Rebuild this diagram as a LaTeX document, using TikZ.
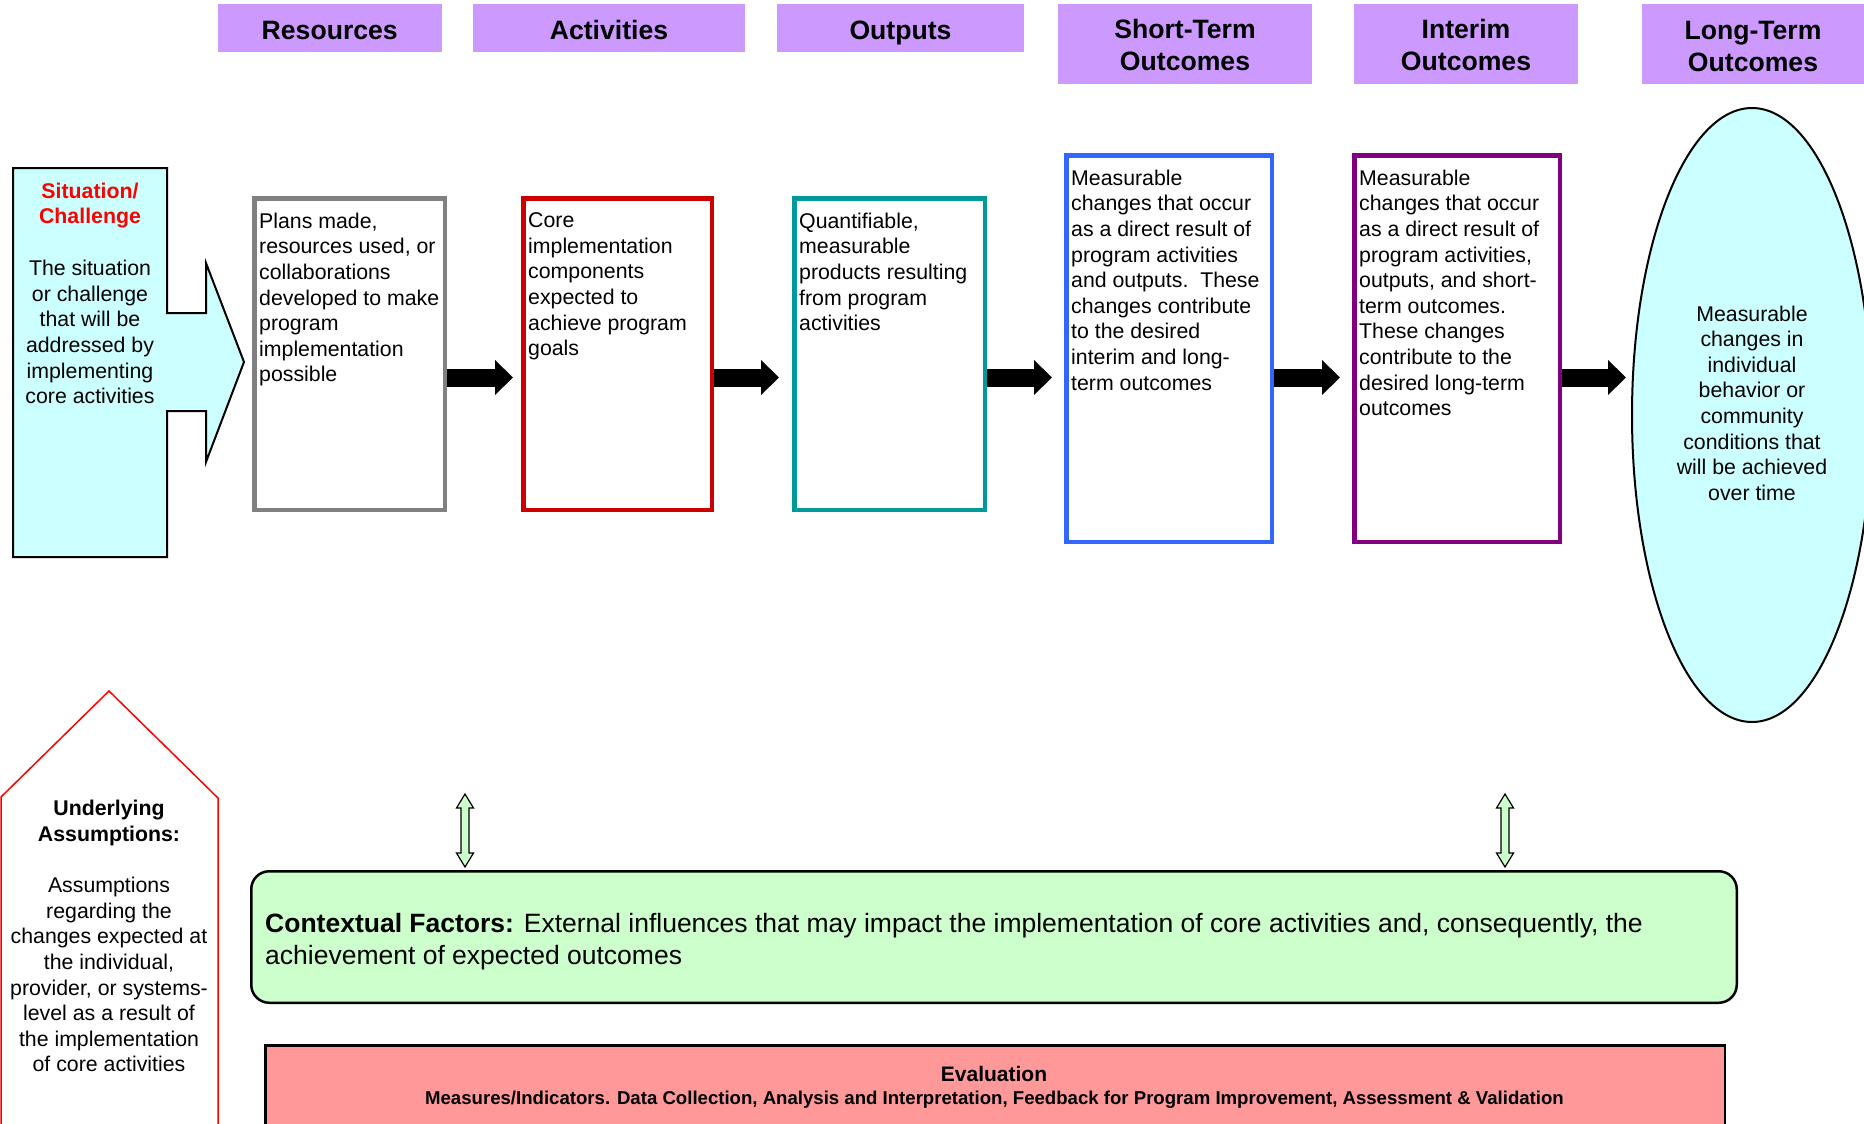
\documentclass[tikz,border=0pt]{standalone}
\usepackage{fontspec}
\setmainfont{Liberation Sans}
\usetikzlibrary{arrows.meta,shapes.geometric,calc}
\definecolor{hdrc}{HTML}{CC99FF}
\definecolor{ltcyan}{HTML}{CCFFFF}
\definecolor{ltgreen}{HTML}{CCFFCC}
\definecolor{evalpink}{HTML}{FF9999}
\definecolor{sitred}{HTML}{FF0000}
\definecolor{resgray}{HTML}{808080}
\definecolor{actred}{HTML}{CC0000}
\definecolor{outteal}{HTML}{009999}
\definecolor{stblue}{HTML}{3366FF}
\definecolor{impurple}{HTML}{800080}
\tikzset{
  hdr/.style={fill=hdrc, inner sep=0pt},
  hdrtxt/.style={inner sep=0pt, align=center, font=\bfseries\fontsize{26.6pt}{32pt}\selectfont},
  pbox/.style={draw=#1, line width=4.5pt, fill=white, inner sep=0pt},
  btxt/.style={anchor=north west, inner sep=0pt, align=left, font=\fontsize{21.3pt}{25.6pt}\selectfont},
  ctxt/.style={anchor=north, inner sep=0pt, align=center, font=\fontsize{21.3pt}{25.6pt}\selectfont},
  cbold/.style={anchor=north, inner sep=0pt, align=center, font=\bfseries\fontsize{21.3pt}{25.6pt}\selectfont},
  blockarrow/.style={line width=18pt, -{Triangle[length=18pt,width=34pt]}},
  dblarrow/.style={fill=ltgreen, draw=black, line width=1.2pt, line join=miter}
}
\begin{document}
\begin{tikzpicture}[x=1pt,y=-1pt]
\useasboundingbox (0,0) rectangle (1864,1124);
\clip (0,0) rectangle (1864,1124);

% headers
\node[hdr, minimum width=224.5pt, minimum height=48.7pt] (h1) at (329.75,28) {};
\node[hdr, minimum width=272pt, minimum height=48.7pt] (h2) at (609,28) {};
\node[hdr, minimum width=247pt, minimum height=48.7pt] (h3) at (900.5,28) {};
\node[hdr, minimum width=254pt, minimum height=80.8pt] (h4) at (1185,44) {};
\node[hdr, minimum width=224pt, minimum height=80.8pt] (h5) at (1466,44) {};
\node[hdr, minimum width=222pt, minimum height=80.8pt] (h6) at (1753,44) {};
\coordinate (hb) at (0,40);
\node[hdrtxt, anchor=base] (h1t) at (h1.center |- hb) {Resources};
\node[hdrtxt, anchor=base] (h2t) at (h2.center |- hb) {Activities};
\node[hdrtxt, anchor=base] (h3t) at (h3.center |- hb) {Outputs};
\node[hdrtxt] (h4t) at ($(h4.center)+(0,1.3)$) {Short-Term\\Outcomes};
\node[hdrtxt] (h5t) at ($(h5.center)+(0,1.3)$) {Interim\\Outcomes};
\node[hdrtxt] (h6t) at ($(h6.center)+(0,2.5)$) {Long-Term\\Outcomes};

% situation / challenge arrow shape
\filldraw[fill=ltcyan, draw=black, line width=2pt]
  (13,168) -- (167,168) -- (167,313) -- (206,313) -- (206,263) -- (244,362)
  -- (206,462) -- (206,411) -- (167,411) -- (167,557) -- (13,557) -- cycle;
\node[cbold, text=sitred] (sitt) at (90,182.7) {Situation/\\Challenge};
\node[ctxt] (sitb) at (90,260) {The situation\\or challenge\\that will be\\addressed by\\implementing\\core activities};

% boxes
\node[pbox=resgray, minimum width=190.5pt, minimum height=311.5pt] (res) at (349.5,354) {};
\node[pbox=actred, minimum width=188.5pt, minimum height=311.5pt] (act) at (617.5,354) {};
\node[pbox=outteal, minimum width=190.5pt, minimum height=311.5pt] (out) at (889.5,354) {};
\node[pbox=stblue, minimum width=205.5pt, minimum height=386.5pt] (st) at (1169,348.5) {};
\node[pbox=impurple, minimum width=205.5pt, minimum height=386.5pt] (im) at (1457,348.5) {};
\node[ellipse, draw=black, line width=2pt, fill=ltcyan, minimum width=240pt, minimum height=614pt, inner sep=0pt] (lt) at (1752,415) {};

\node[btxt] (rest) at (259,212.7) {Plans made,\\resources used, or\\collaborations\\developed to make\\program\\implementation\\possible};
\node[btxt] (actt) at (528,212.7) {Core\\implementation\\components\\expected to\\achieve program\\goals};
\node[btxt] (outt) at (799,212.7) {Quantifiable,\\measurable\\products resulting\\from program\\activities};
\node[btxt] (stt) at (1071,169.7) {Measurable\\changes that occur\\as a direct result of\\program activities\\and outputs.\ \ These\\changes contribute\\to the desired\\interim and long-\\term outcomes};
\node[btxt] (imt) at (1359,169.7) {Measurable\\changes that occur\\as a direct result of\\program activities,\\outputs, and short-\\term outcomes.\\These changes\\contribute to the\\desired long-term\\outcomes};
\node[ctxt] (ltt) at (1752,305.5) {Measurable\\changes in\\individual\\behavior or\\community\\conditions that\\will be achieved\\over time};

% block arrows
\coordinate (ay) at (0,377.5);
\draw[blockarrow, shorten >=8pt] (res.east |- ay) -- (act.west |- ay);
\draw[blockarrow, shorten >=13pt] (act.east |- ay) -- (out.west |- ay);
\draw[blockarrow, shorten >=12pt] (out.east |- ay) -- (st.west |- ay);
\draw[blockarrow, shorten >=12pt] (st.east |- ay) -- (im.west |- ay);
\draw[blockarrow, shorten >=5pt] (im.east |- ay) -- (lt.west |- ay);

% underlying assumptions
\filldraw[fill=white, draw=sitred, line width=1.5pt]
  (1,797) -- (109,691) -- (218,798) -- (218,1130) -- (1,1130) -- cycle;
\node[cbold] (uat) at (109,800) {Underlying\\Assumptions:};
\node[ctxt] (uab) at (109,877) {Assumptions\\regarding the\\changes expected at\\the individual,\\provider, or systems-\\level as a result of\\the implementation\\of core activities};

% contextual factors
\node[draw=black, line width=2.5pt, fill=ltgreen, rounded corners=18pt, minimum width=1485.5pt, minimum height=131.5pt, inner sep=0pt] (ctx) at (994,937) {};
\node[anchor=north west, inner sep=0pt, align=left, font=\fontsize{26.5pt}{31.7pt}\selectfont] (ctxtext) at (265,913)
  {\textbf{Contextual Factors:} External influences that may impact the implementation of core activities and, consequently, the\\achievement of expected outcomes};

% double arrows
\coordinate (d1) at (465,794);
\coordinate (d2) at (1505,794);
\foreach \d in {d1,d2}{
  \filldraw[dblarrow] (\d) -- ++(8.5,14) -- ++(-4.5,0) -- ++(0,45) -- ++(4.5,0) -- ++(-8.5,14)
    -- ++(-8.5,-14) -- ++(4.5,0) -- ++(0,-45) -- ++(-4.5,0) -- cycle;
}

% evaluation
\node[draw=black, line width=2.5pt, fill=evalpink, minimum width=1459.5pt, minimum height=120pt, inner sep=0pt, anchor=north] (ev) at (995,1044.25) {};
\node[anchor=base, inner sep=0pt, font=\bfseries\fontsize{21pt}{25pt}\selectfont] (evt) at (994,1081) {Evaluation};
\node[anchor=base, inner sep=0pt, font=\bfseries\fontsize{18.6pt}{22pt}\selectfont] (evs) at (994.5,1104) {Measures/Indicators. Data Collection, Analysis and Interpretation, Feedback for Program Improvement, Assessment \& Validation};
\end{tikzpicture}
\end{document}
